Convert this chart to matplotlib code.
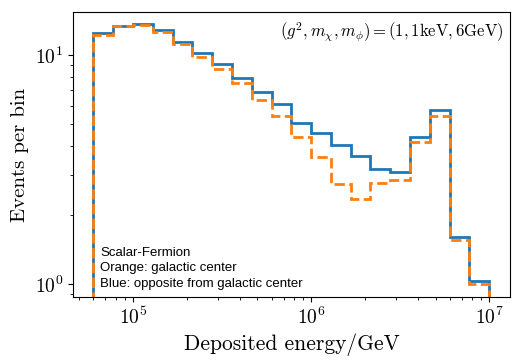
import matplotlib
matplotlib.use("Agg")
import matplotlib.pyplot as plt
import numpy as np

plt.rcParams['mathtext.fontset'] = 'cm'
plt.rcParams['font.family'] = 'serif'
plt.rcParams['font.serif'] = ['cmr10']
plt.rcParams['axes.formatter.use_mathtext'] = True

# 20 log bins from 6e4 GeV to 1e7 GeV
edges = np.logspace(np.log10(6e4), 7, 21)

opposite_gc = [12.4, 13.4, 13.6, 12.9, 11.4, 10.2, 9.1, 7.96, 6.9, 6.1,
               5.06, 4.58, 4.05, 3.63, 3.18, 3.08, 4.4, 5.75, 1.61, 1.03]
galactic_center = [12.2, 13.4, 13.5, 12.6, 11.2, 9.8, 8.7, 7.5, 6.36, 5.42,
                   4.4, 3.59, 2.72, 2.35, 2.75, 2.83, 4.18, 5.42, 1.56, 1.0]

fig = plt.figure(figsize=(5.21, 3.6), dpi=100)
ax = fig.add_axes([0.140, 0.175, 0.839, 0.792])

ax.stairs(opposite_gc, edges, baseline=1e-3, color='C0', lw=2)
ax.stairs(galactic_center, edges, baseline=1e-3, color='C1', lw=2, ls='--')

ax.set_xscale('log')
ax.set_yscale('log')
ax.set_xlim(4.6e4, 1.31e7)
ax.set_ylim(0.877, 15.4)

ax.set_xlabel('Deposited energy/GeV', fontsize=15.5)
ax.set_ylabel('Events per bin', fontsize=15)
ax.tick_params(labelsize=14)

ax.text(0.985, 0.93, r'$(g^2, m_\chi, m_\phi) = (1, 1\mathrm{keV}, 6\mathrm{GeV})$',
        transform=ax.transAxes, ha='right', va='center', fontsize=12)
ax.text(0.062, 0.025, 'Scalar-Fermion\nOrange: galactic center\nBlue: opposite from galactic center',
        transform=ax.transAxes, ha='left', va='bottom', fontsize=9.5,
        family='Liberation Sans', linespacing=1.4)

fig.savefig('out.png', dpi=100)
